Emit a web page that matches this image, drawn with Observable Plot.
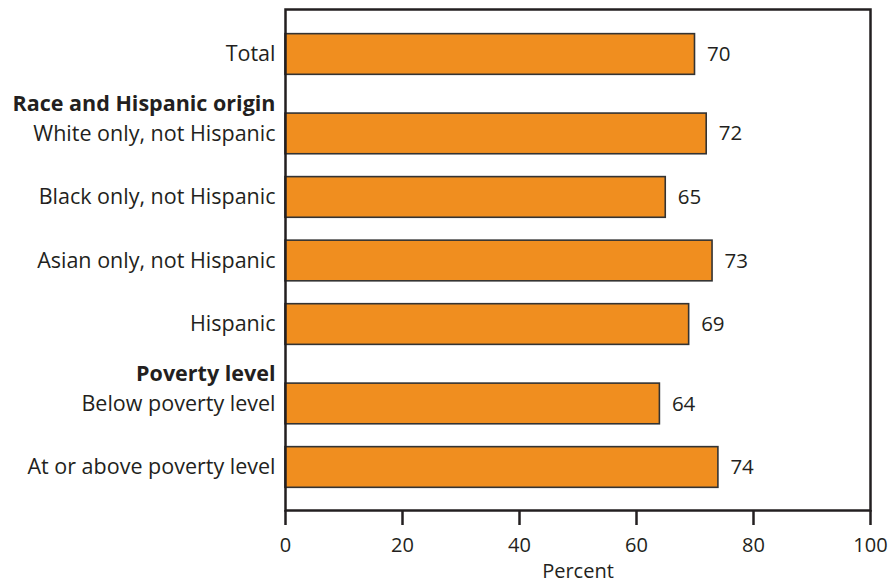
<!DOCTYPE html>
<html><head><meta charset="utf-8">
<script src="https://cdn.jsdelivr.net/npm/d3@7"></script>
<script src="https://cdn.jsdelivr.net/npm/@observablehq/plot@0.6"></script>
<style>body{margin:0;background:#fff} svg{font-family:"Open Sans",sans-serif}</style>
</head><body><div id="chart"></div>
<script>
const groupHeaders = [null, "Race and Hispanic origin", "Poverty level"];
const categories = ["Total","White only, not Hispanic","Black only, not Hispanic","Asian only, not Hispanic","Hispanic","Below poverty level","At or above poverty level"];
const categoryGroup = [0,1,1,1,1,2,2];
const values = [70,72,65,73,69,64,74];
const xTicks = [0,20,40,60,80,100];

const GAP = 0.25;
const rows = categories.map((c, i) => ({category: c, value: values[i], pos: i + GAP * categoryGroup[i]}));
const headers = groupHeaders.map((h, g) => {
  if (!h) return null;
  const first = rows.find((r, i) => categoryGroup[i] === g);
  return {header: h, pos: first.pos - 0.47};
}).filter(Boolean);

const ink = "#231f20";
const chart = Plot.plot({
  width: 890, height: 582,
  marginLeft: 285, marginRight: 20, marginTop: 9, marginBottom: 72,
  style: {fontFamily: "'Open Sans', sans-serif", color: ink, background: "#fff"},
  x: {domain: [0, 100]},
  y: {domain: [-0.708, 7.177], reverse: true, axis: null},
  marks: [
    Plot.rect(rows, {x1: 0, x2: "value", y1: d => d.pos - 0.32, y2: d => d.pos + 0.32, fill: "#f08e1f", stroke: "#333", strokeWidth: 1.6}),
    Plot.text(rows, {x: "value", y: "pos", text: d => String(d.value), textAnchor: "start", dx: 12, fontSize: 20.5, fill: ink}),
    Plot.text(rows, {y: "pos", text: "category", frameAnchor: "left", textAnchor: "end", dx: -10, fontSize: 21.5, fill: ink}),
    Plot.text(headers, {y: "pos", text: "header", frameAnchor: "left", textAnchor: "end", dx: -10, fontSize: 21.5, fontWeight: "bold", fill: ink}),
    Plot.frame({stroke: ink, strokeWidth: 2.5}),
    Plot.axisX({ticks: xTicks, tickSize: 15, tickPadding: 12, fontSize: 20, strokeWidth: 2.5, label: "Percent", labelAnchor: "center", labelArrow: "none", labelOffset: 67})
  ]
});
document.getElementById("chart").appendChild(chart);
</script></body></html>
